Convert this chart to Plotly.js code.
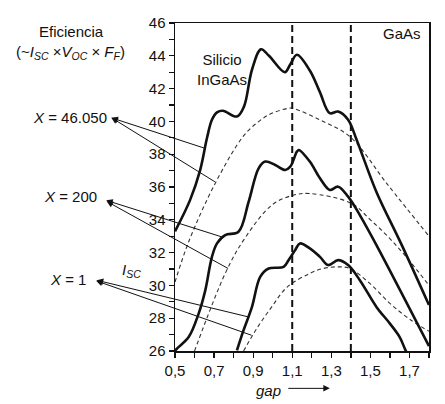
<!DOCTYPE html>
<html>
<head>
<meta charset="utf-8">
<script src="https://cdn.plot.ly/plotly-3.0.1.min.js"></script>
<style>
  html, body { margin: 0; padding: 0; background: #fff; }
  #chart { width: 445px; height: 404px; }
</style>
</head>
<body>
<div id="chart"></div>
<script>
// Efficiency curves vs band gap for three concentration levels (X)
// Solid: detailed efficiency; dashed: smooth I_SC-limited estimate.

const gapA = [0.5, 0.577, 0.628, 0.664, 0.689, 0.715, 0.745, 0.817, 0.853, 0.894, 0.94, 0.981, 1.062, 1.089, 1.124, 1.19, 1.241, 1.292, 1.335, 1.386, 1.429, 1.531, 1.659, 1.8];
const effA = [33.3, 35.2, 37.0, 39.0, 40.1, 40.55, 40.65, 40.3, 40.9, 43.15, 44.4, 44.0, 43.0, 43.45, 44.06, 43.1, 41.8, 40.5, 40.6, 40.1, 38.9, 35.7, 32.5, 28.8];

const gapB = [0.5, 0.51, 0.57, 0.621, 0.655, 0.689, 0.715, 0.757, 0.825, 0.877, 0.928, 0.962, 1.013, 1.064, 1.09, 1.124, 1.134, 1.19, 1.242, 1.292, 1.335, 1.386, 1.446, 1.531, 1.8];
const effB = [26.0, 26.15, 26.85, 28.28, 29.7, 31.74, 32.56, 33.07, 33.27, 35.1, 37.14, 37.55, 37.34, 37.04, 37.24, 38.16, 38.26, 37.55, 36.53, 35.82, 36.02, 35.41, 34.29, 32.46, 26.3];

const gapC = [0.817, 0.851, 0.894, 0.936, 0.979, 1.056, 1.081, 1.115, 1.139, 1.19, 1.242, 1.284, 1.335, 1.386, 1.446, 1.531, 1.6, 1.65, 1.676, 1.69];
const effC = [26.04, 27.27, 28.69, 30.52, 31.03, 31.13, 31.54, 32.15, 32.56, 32.26, 31.74, 31.24, 31.54, 31.24, 30.32, 28.69, 27.67, 26.85, 26.15, 25.8];

const gapD1 = [0.5, 0.57, 0.706, 0.85, 0.928, 0.996, 1.081, 1.1, 1.242, 1.395, 1.59, 1.8];
const effD1 = [30.2, 32.66, 36.23, 39.1, 39.99, 40.5, 40.8, 40.81, 40.09, 39.07, 36.12, 33.0];

const gapD2 = [0.6, 0.757, 0.851, 0.996, 1.105, 1.19, 1.403, 1.5, 1.6, 1.7, 1.8];
const effD2 = [26.0, 30.73, 32.76, 34.9, 35.5, 35.6, 35.0, 34.0, 32.85, 31.5, 30.0];

const gapD3 = [0.851, 0.92, 0.995, 1.074, 1.19, 1.258, 1.33, 1.395, 1.497, 1.6, 1.7, 1.8];
const effD3 = [26.0, 27.4, 28.69, 29.9, 30.73, 31.03, 31.13, 31.03, 30.12, 28.9, 27.95, 27.2];

// Reference gaps marked with vertical dashed lines
const markGaps = [1.1, 1.4];

const xTicks = [0.5, 0.7, 0.9, 1.1, 1.3, 1.5, 1.7];
const xMinor = [0.6, 0.8, 1.0, 1.2, 1.4, 1.6, 1.8];

const ink = '#111';
const FONT = 'Liberation Sans, Arial, sans-serif';

function solid(x, y) {
  return { x, y, mode: 'lines', type: 'scatter', hoverinfo: 'skip',
    line: { color: ink, width: 2.6, shape: 'spline', smoothing: 1 } };
}
function dashed(x, y) {
  return { x, y, mode: 'lines', type: 'scatter', hoverinfo: 'skip',
    line: { color: '#333', width: 1.1, dash: '4px,3px', shape: 'spline', smoothing: 1 } };
}

const traces = [
  dashed(gapD1, effD1), dashed(gapD2, effD2), dashed(gapD3, effD3),
  solid(gapA, effA), solid(gapB, effB), solid(gapC, effC)
];

const shapes = markGaps.map(g => ({
  type: 'line', xref: 'x', yref: 'paper', x0: g, x1: g, y0: 0, y1: 1,
  line: { color: ink, width: 2, dash: '7px,4px' }
}));

// Leader arrows: head sits beside the label, tail touches the curve
function leader(x, y, ax, ay) {
  return { x, y, xref: 'x', yref: 'y', ax, ay, text: '', showarrow: true,
    arrowside: 'start', startarrowhead: 2, startarrowsize: 1.3,
    arrowwidth: 1, arrowcolor: ink, standoff: 0, startstandoff: 0 };
}

function label(text, px, py, anchor, size) {
  // px, py in page pixels converted to paper coordinates of the plot box
  const L = 175, R = 429.3, T = 23.3, B = 350.7;
  return { text, xref: 'paper', yref: 'paper',
    x: (px - L) / (R - L), y: (B - py) / (B - T),
    xanchor: anchor, yanchor: 'middle', showarrow: false,
    font: { family: FONT, size: size || 15, color: ink } };
}

const annotations = [
  leader(0.653, 38.36, -95, -31),
  leader(0.704, 36.32, -105, -65),
  leader(0.739, 32.96, -117, -37),
  leader(0.772, 31.03, -123, -68),
  leader(0.875, 28.08, -153, -37),
  leader(0.892, 26.96, -157, -55),
  label('Eficiencia', 71, 32, 'center'),
  label('(~<i>I</i><sub><i>SC</i></sub> ×<i>V</i><sub><i>OC</i></sub> × <i>F</i><sub><i>F</i></sub>)', 70, 53, 'center'),
  label('<i>X</i> = 46.050', 109, 117.5, 'right'),
  label('<i>X</i> = 200', 99, 196, 'right'),
  label('<i>X</i> = 1', 88, 279, 'right'),
  label('<i>I</i><sub><i>SC</i></sub>', 120, 270, 'left'),
  label('Silicio<br>InGaAs', 222, 70, 'center'),
  label('GaAs', 402, 34, 'center'),
  label('<i>gap</i>', 269, 390, 'center'),
  { xref: 'paper', yref: 'paper', x: (330 - 175) / 254.3, y: (350.7 - 388) / 327.4,
    ax: -43, ay: 0, text: '', showarrow: true, arrowhead: 2, arrowsize: 1.3,
    arrowwidth: 1, arrowcolor: ink, standoff: 0, startstandoff: 0 }
];

const layout = {
  width: 445, height: 404,
  margin: { l: 175, r: 15.7, t: 23.3, b: 53.3 },
  paper_bgcolor: '#fff', plot_bgcolor: '#fff',
  showlegend: false,
  separators: ',.',
  font: { family: FONT, size: 15, color: ink },
  xaxis: {
    range: [0.5, 1.8], tickvals: xTicks, tickformat: '.1f',
    ticks: 'outside', ticklen: 5, tickwidth: 1.3, tickcolor: ink,
    minor: { tickvals: xMinor, ticks: 'outside', ticklen: 5, tickwidth: 1.3, tickcolor: ink },
    showline: true, linewidth: 1.5, linecolor: ink, mirror: true,
    showgrid: false, zeroline: false,
    tickfont: { family: FONT, size: 15, color: ink }
  },
  yaxis: {
    range: [26, 46], dtick: 2, tick0: 26,
    ticks: 'outside', ticklen: 5, tickwidth: 1.3, tickcolor: ink,
    minor: { dtick: 1, ticks: 'outside', ticklen: 5, tickwidth: 1.3, tickcolor: ink },
    showline: true, linewidth: 1.5, linecolor: ink, mirror: true,
    showgrid: false, zeroline: false,
    tickfont: { family: FONT, size: 15, color: ink }
  },
  shapes, annotations
};

Plotly.newPlot('chart', traces, layout, { displayModeBar: false, staticPlot: true });
</script>
</body>
</html>
